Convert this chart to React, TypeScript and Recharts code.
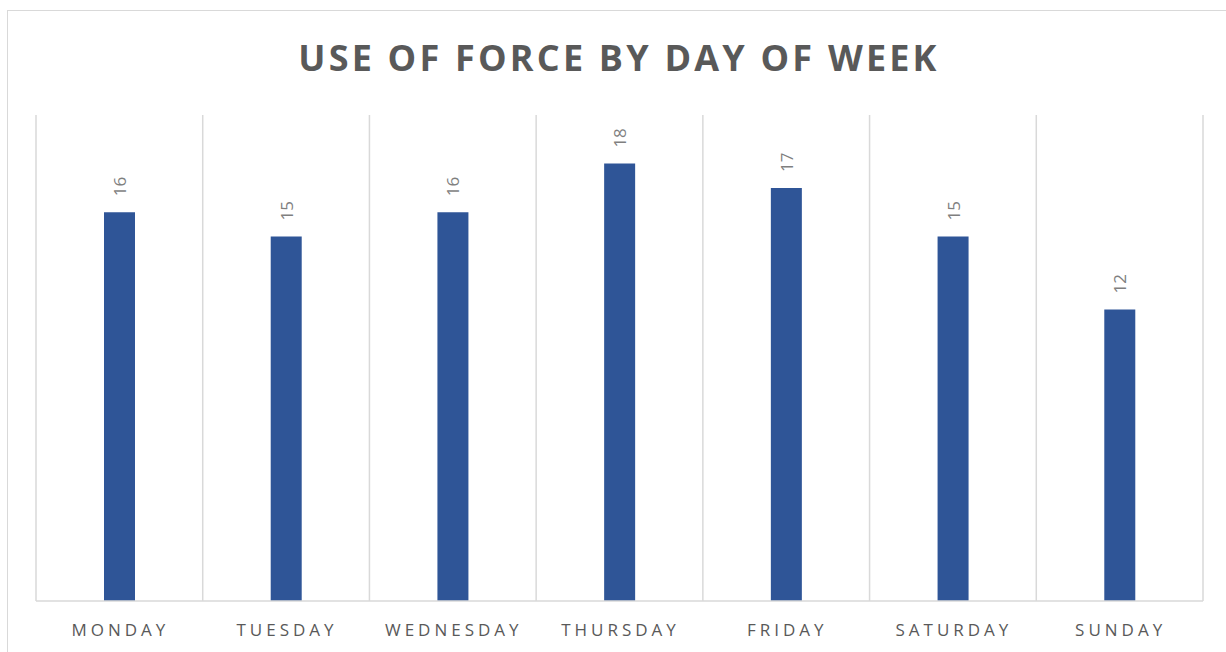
import React from 'react';
import { BarChart, Bar, XAxis, YAxis, CartesianGrid, LabelList } from 'recharts';

const days = ['MONDAY', 'TUESDAY', 'WEDNESDAY', 'THURSDAY', 'FRIDAY', 'SATURDAY', 'SUNDAY'];
const counts = [16, 15, 16, 18, 17, 15, 12];

const data = days.map((day, i) => ({ day, count: counts[i] }));

const FONT = '"Open Sans", "Liberation Sans", sans-serif';

// grid lines sit between the categories, not on them
const boundaryLines = ({ offset }: any) =>
  Array.from({ length: days.length + 1 }, (_, i) => offset.left + (i * offset.width) / days.length);

const DayTick = (props: any) => {
  const { x, y, payload } = props;
  return (
    <text
      x={x + 1}
      y={y + 27}
      textAnchor="middle"
      fill="#595959"
      fontSize={17}
      fontFamily={FONT}
      letterSpacing={4}
    >
      {payload.value}
    </text>
  );
};

const ValueLabel = (props: any) => {
  const { x, y, width, value } = props;
  const cx = x + width / 2;
  const ty = y - 16;
  return (
    <text
      x={cx}
      y={ty}
      transform={`rotate(-90, ${cx}, ${ty})`}
      textAnchor="start"
      dominantBaseline="central"
      fill="#7f7f7f"
      fontSize={17}
      fontFamily={FONT}
    >
      {value}
    </text>
  );
};

const App: React.FC = () => {
  return (
    <div
      style={{
        position: 'absolute',
        left: 0,
        top: 0,
        width: 1226,
        height: 652,
        overflow: 'hidden',
        background: '#fff',
      }}
    >
      <div
        style={{
          position: 'absolute',
          left: 7,
          top: 10,
          width: 1260,
          height: 700,
          border: '1.5px solid #d9d9d9',
          boxSizing: 'border-box',
        }}
      />
      <div
        style={{
          position: 'absolute',
          left: 0,
          top: 33,
          width: 1238,
          textAlign: 'center',
          fontFamily: FONT,
          fontWeight: 700,
          fontSize: 36,
          letterSpacing: 3.2,
          color: '#595959',
        }}
      >
        USE OF FORCE BY DAY OF WEEK
      </div>
      <div style={{ position: 'absolute', left: 0, top: 0 }}>
        <BarChart
          width={1226}
          height={652}
          data={data}
          margin={{ top: 115, right: 23, bottom: 0, left: 36 }}
          barSize={31}
        >
          <CartesianGrid
            horizontal={false}
            verticalCoordinatesGenerator={boundaryLines}
            stroke="#d9d9d9"
            strokeWidth={1.5}
          />
          <XAxis
            dataKey="day"
            height={51}
            axisLine={{ stroke: '#d9d9d9', strokeWidth: 1.5 }}
            tickLine={false}
            tick={<DayTick />}
            interval={0}
          />
          <YAxis hide domain={[0, 20]} />
          <Bar dataKey="count" fill="#2f5597" isAnimationActive={false}>
            <LabelList dataKey="count" content={<ValueLabel />} />
          </Bar>
        </BarChart>
      </div>
    </div>
  );
};

export default App;
